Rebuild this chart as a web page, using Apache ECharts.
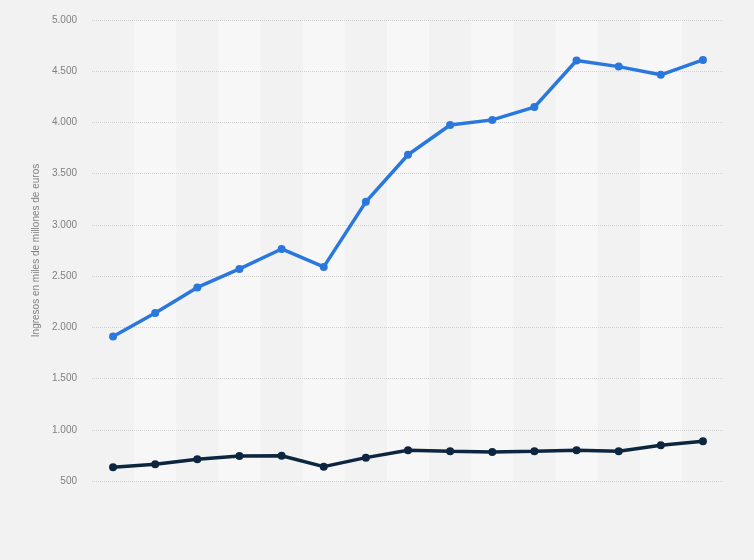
<!DOCTYPE html>
<html>
<head>
<meta charset="utf-8">
<script src="https://cdn.jsdelivr.net/npm/echarts@6/dist/echarts.min.js"></script>
<style>
html,body{margin:0;padding:0;background:#f2f2f2;}
#chart{width:754px;height:560px;}
</style>
</head>
<body>
<div id="chart"></div>
<script>
var categories = ['1','2','3','4','5','6','7','8','9','10','11','12','13','14','15'];
var seriesBlue = [1910, 2140, 2390, 2570, 2765, 2590, 3225, 3685, 3975, 4025, 4150, 4605, 4545, 4465, 4610];
var seriesDark = [635, 663, 712, 744, 747, 640, 728, 800, 790, 782, 790, 800, 790, 849, 888];
var yTicks = {min: 500, max: 5000, interval: 500};
var axisName = 'Ingresos en miles de millones de euros';

var chart = echarts.init(document.getElementById('chart'));
var fmt = function (v) { return String(v).replace(/\B(?=(\d{3})+(?!\d))/g, '.'); };
chart.setOption({
  backgroundColor: '#f2f2f2',
  animation: false,
  grid: {left: 92, right: 30, top: 20, bottom: 79},
  xAxis: {type: 'category', data: categories, boundaryGap: true, z: 0,
     axisLine: {show: false}, axisTick: {show: false}, axisLabel: {show: false}, splitLine: {show: false},
     splitArea: {show: true, areaStyle: {color: ['rgba(0,0,0,0)', '#f7f7f7']}}},
  yAxis: {type: 'value', min: yTicks.min, max: yTicks.max, interval: yTicks.interval, z: 2,
     name: axisName, nameLocation: 'middle', nameGap: 46, nameRotate: 90,
     nameTextStyle: {color: '#808080', fontSize: 10, fontFamily: 'Liberation Sans, Arial, sans-serif'},
     axisLine: {show: false}, axisTick: {show: false},
     axisLabel: {color: '#808080', fontSize: 10, margin: 15, fontFamily: 'Liberation Sans, Arial, sans-serif', formatter: fmt},
     splitLine: {show: true, lineStyle: {color: '#d2d2d2', type: [1, 1], width: 1}}},
  series: [
    {type: 'line', data: seriesBlue, z: 5,
     symbol: 'circle', symbolSize: 8, lineStyle: {color: '#2a78de', width: 3.5},
     itemStyle: {color: '#2a78de'}},
    {type: 'line', data: seriesDark, z: 5,
     symbol: 'circle', symbolSize: 8, lineStyle: {color: '#0d2640', width: 3.5},
     itemStyle: {color: '#0d2640'}}
  ]
});
</script>
</body>
</html>
